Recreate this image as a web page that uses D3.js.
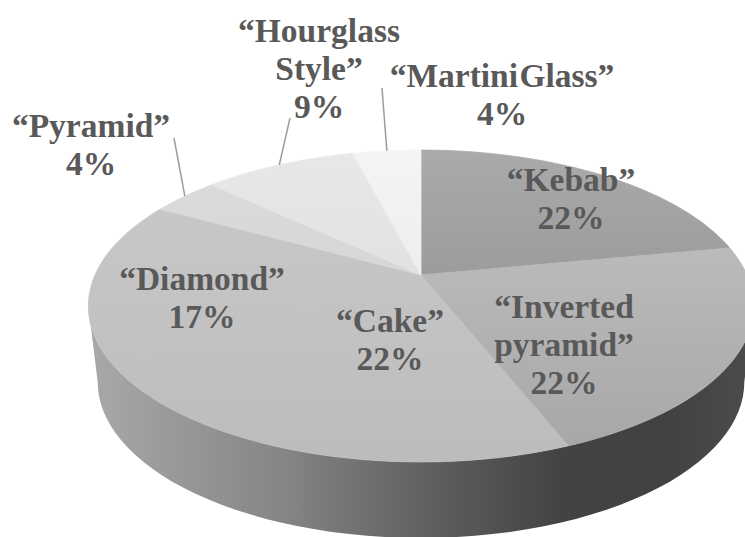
<!DOCTYPE html>
<html>
<head>
<meta charset="utf-8">
<title>Body shape distribution</title>
<script src="https://cdn.jsdelivr.net/npm/d3@7/dist/d3.min.js"></script>
<style>
  html, body { margin: 0; padding: 0; background: #fff; overflow: hidden; }
  svg { display: block; }
  text { font-family: "Liberation Serif", serif; font-weight: 700; fill: #595959; font-size: 33.5px; text-anchor: middle; }
</style>
</head>
<body>
<svg id="chart" width="745" height="537"></svg>
<script>
// Share of each shape, clockwise from twelve o'clock
const shapes = ["Kebab", "Inverted pyramid", "Cake", "Diamond", "Pyramid", "Hourglass Style", "Martini Glass"];
const shares = [22, 22, 22, 17, 4, 9, 4];
const percentLabels = ["22%", "22%", "22%", "17%", "4%", "9%", "4%"];

// Top-surface shading per slice: [far colour, near colour]
const sliceShades = [
  ["#aaaaaa", "#878787"], ["#c4c4c4", "#a6a6a6"], ["#cacaca", "#bcbcbc"], ["#cacaca", "#bcbcbc"],
  ["#dcdcdc", "#cecece"], ["#e8e8e8", "#d8d8d8"], ["#f4f4f4", "#e6e6e6"]
];

// Label placement: centre x, first baseline, wrapped lines, and the leader end if the slice has one
const labelLayout = [
  { x: 571, y: 191, lines: ["“Kebab”"] },
  { x: 564, y: 318, lines: ["“Inverted", "pyramid”"] },
  { x: 390, y: 332, lines: ["“Cake”"] },
  { x: 202, y: 290, lines: ["“Diamond”"] },
  { x: 91, y: 137, lines: ["“Pyramid”"], leader: [174, 138] },
  { x: 319, y: 42, lines: ["“Hourglass", "Style”"], leader: [290, 118] },
  { x: 502, y: 87, lines: ["“Martini Glass”"], leader: [382, 88] }
];
const lineGap = 38;

// Perspective camera for a tilted disc
const cam = { cx: 421, cy: 275, a: 326, b: 149.8, k: 0.1987, depth: 76, shrink: 0.972 };

function project(angle) {
  const u = Math.sin(angle), v = -Math.cos(angle), w = 1 - cam.k * v;
  return [cam.cx + cam.a * u / w, cam.cy + cam.b * v / w];
}
function projectLower(angle) {
  const [x, y] = project(angle);
  return [cam.cx + (x - cam.cx) * cam.shrink, y + cam.depth];
}
const rimSteps = (a0, a1) => d3.range(0, 61).map(i => a0 + (a1 - a0) * i / 60);

const svg = d3.select("#chart");
const defs = svg.append("defs");
const line = d3.line();

const arcs = d3.pie().sort(null).value(d => d)(shares);
const topY = project(0)[1], nearY = project(Math.PI)[1];

// Wall: sweep between the points where the projected disc is widest
const wallGrad = defs.append("linearGradient").attr("id", "wall")
  .attr("gradientUnits", "userSpaceOnUse").attr("x1", 88).attr("x2", 745).attr("y1", 0).attr("y2", 0);
[[0, "#a9a9a9"], [0.14, "#989898"], [0.3, "#858585"], [0.5, "#626262"], [0.72, "#434343"], [0.88, "#414141"], [1, "#4b4b4b"]]
  .forEach(([o, c]) => wallGrad.append("stop").attr("offset", o).attr("stop-color", c));

const widest = Math.acos(-cam.k);
const upper = rimSteps(widest, 2 * Math.PI - widest).map(project);
const lower = rimSteps(2 * Math.PI - widest, widest).map(projectLower);
svg.append("path").attr("d", line(upper.concat(lower)) + "Z").attr("fill", "url(#wall)");

// Top surface slices, each a vertical shade
arcs.forEach((d, i) => {
  const id = "slice" + i;
  const g = defs.append("linearGradient").attr("id", id)
    .attr("gradientUnits", "userSpaceOnUse").attr("x1", 0).attr("x2", 0).attr("y1", topY).attr("y2", nearY);
  g.append("stop").attr("offset", 0).attr("stop-color", sliceShades[i][0]);
  g.append("stop").attr("offset", 1).attr("stop-color", sliceShades[i][1]);
  const pts = [[cam.cx, cam.cy]].concat(rimSteps(d.startAngle, d.endAngle).map(project));
  svg.append("path").attr("class", "slice").attr("d", line(pts) + "Z")
    .attr("fill", `url(#${id})`).attr("stroke", `url(#${id})`).attr("stroke-width", 0.8);
});

// Leader lines run from the middle of the slice's rim to the label
arcs.forEach((d, i) => {
  const end = labelLayout[i].leader;
  if (!end) return;
  const start = project((d.startAngle + d.endAngle) / 2);
  svg.append("path").attr("d", line([start, end])).attr("fill", "none")
    .attr("stroke", "#9c9c9c").attr("stroke-width", 1.5);
});

// Labels: name lines followed by the percentage
labelLayout.forEach((l, i) => {
  const rows = l.lines.concat(percentLabels[i]);
  rows.forEach((row, r) => {
    svg.append("text").attr("x", l.x).attr("y", l.y + r * lineGap)
      .attr("word-spacing", "-7px").text(row);
  });
});
</script>
</body>
</html>
